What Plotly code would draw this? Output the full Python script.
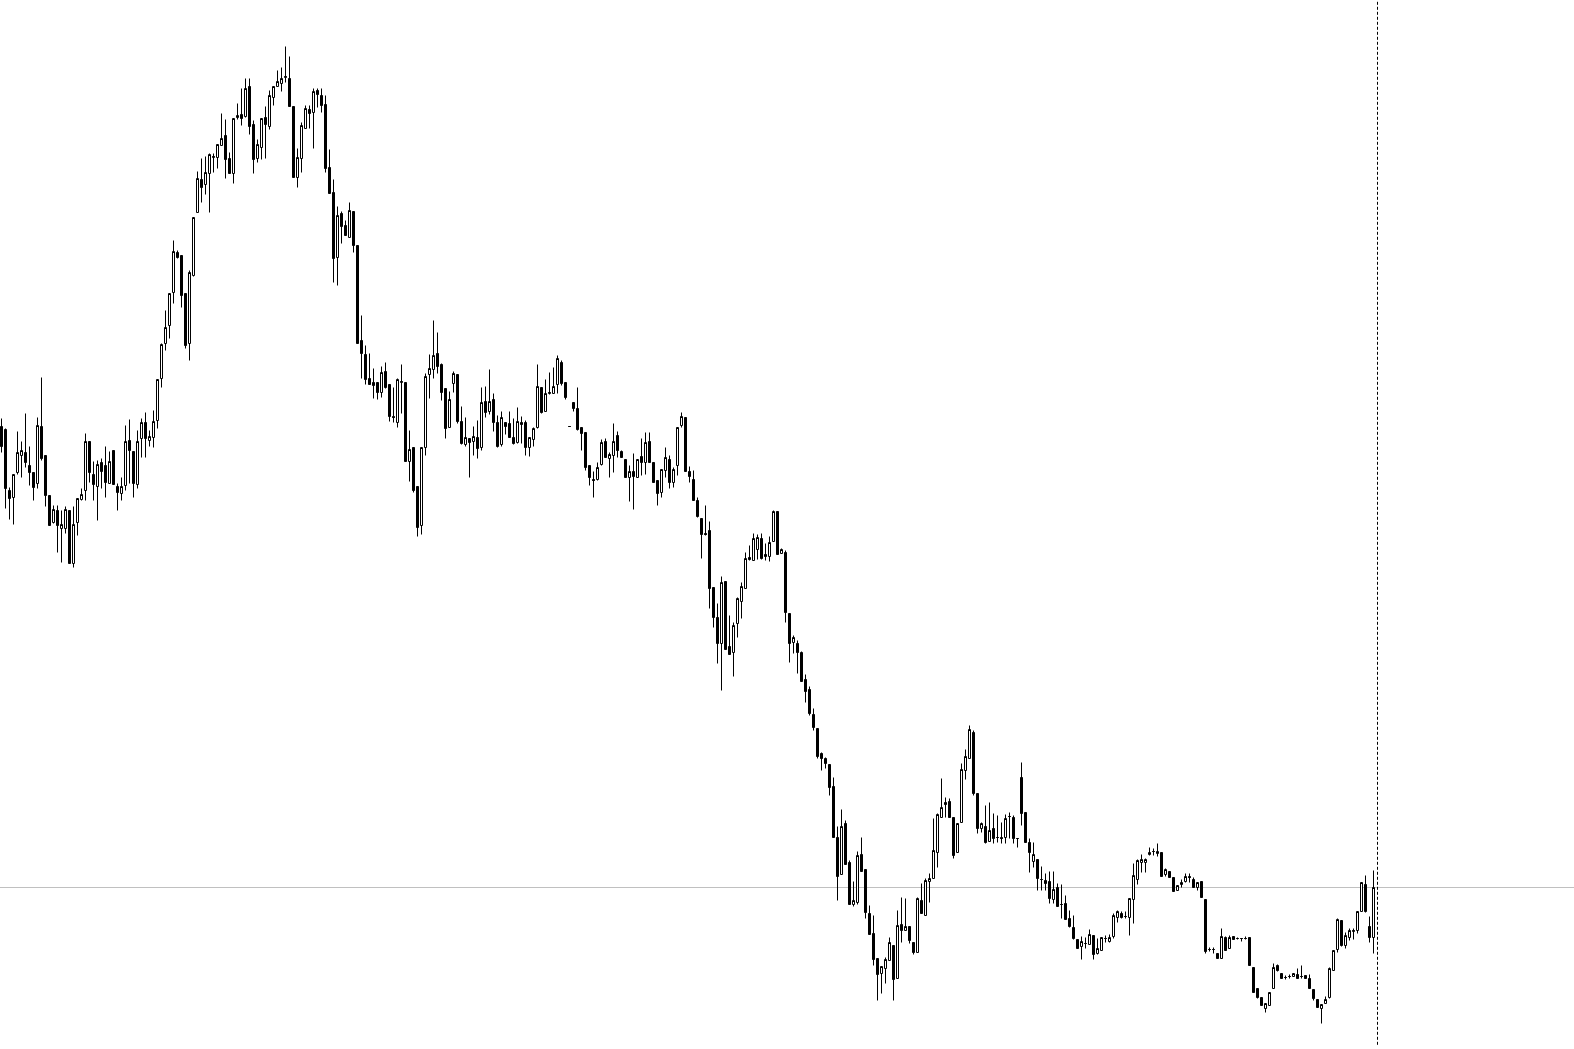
import plotly.graph_objects as go

opens = [624, 621, 560, 553, 578, 595, 598, 585, 578, 567,
         624, 595, 555, 528, 540, 522, 522, 540, 487, 528,
         551, 560, 609, 576, 564, 588, 585, 567, 600, 564,
         557, 565, 610, 599, 566, 612, 628, 610, 613, 630,
         672, 707, 725, 758, 798, 795, 757, 707, 775, 838,
         871, 866, 877, 893, 893, 905, 915, 892, 877, 933,
         936, 934, 964, 926, 892, 903, 933, 924, 953, 964,
         967, 973, 972, 944, 873, 892, 922, 941, 938, 960,
         955, 946, 883, 858, 793, 837, 825, 813, 839, 805,
         710, 696, 672, 668, 668, 658, 679, 666, 634, 628,
         668, 668, 589, 603, 564, 525, 603, 676, 681, 697,
         686, 662, 623, 667, 676, 629, 606, 612, 609, 613,
         603, 649, 639, 651, 628, 606, 628, 627, 613, 608,
         628, 628, 603, 611, 623, 663, 639, 657, 657, 666,
         688, 668, 624, 648, 642, 623, 618, 585, 571, 571,
         586, 609, 592, 595, 615, 599, 591, 573, 579, 573,
         594, 588, 609, 588, 570, 558, 580, 591, 568, 585,
         625, 633, 579, 571, 550, 532, 517, 520, 463, 433,
         407, 469, 404, 398, 427, 449, 462, 493, 490, 501,
         512, 496, 494, 509, 539, 497, 498, 437, 408, 407,
         398, 371, 361, 336, 322, 297, 292, 286, 264, 213,
         176, 227, 188, 146, 148, 196, 181, 137, 117, 92,
         77, 82, 90, 105, 72, 126, 120, 124, 108, 98,
         150, 135, 169, 172, 198, 233, 248, 249, 233, 198,
         228, 280, 292, 318, 257, 222, 224, 209, 222, 213,
         213, 213, 234, 233, 212, 273, 238, 208, 189, 191,
         171, 170, 169, 151, 163, 146, 147, 132, 123, 111,
         104, 107, 106, 115, 97, 100, 112, 109, 114, 133,
         137, 134, 133, 151, 171, 188, 188, 196, 199, 197,
         198, 176, 179, 173, 160, 166, 169, 174, 171, 163,
         169, 151, 101, 101, 97, 92, 113, 102, 114, 112,
         112, 112, 113, 83, 62, 53, 42, 45, 62, 85,
         77, 73, 74, 74, 76, 74, 75, 72, 61, 51,
         42, 47, 53, 80, 101, 130, 105, 113, 119, 120,
         139, 166, 124, 113]

highs = [632, 622, 563, 576, 619, 609, 637, 604, 578, 633,
         673, 595, 555, 545, 545, 540, 544, 540, 544, 552,
         562, 617, 609, 589, 590, 592, 604, 599, 600, 567,
         573, 625, 631, 599, 620, 632, 638, 620, 640, 671,
         707, 740, 757, 810, 800, 795, 757, 780, 833, 879,
         892, 894, 897, 897, 906, 937, 931, 898, 932, 947,
         962, 972, 972, 930, 911, 932, 944, 960, 964, 980,
         983, 1004, 994, 944, 902, 928, 945, 945, 962, 962,
         962, 955, 901, 871, 844, 839, 830, 848, 839, 805,
         735, 705, 697, 682, 668, 684, 688, 666, 663, 672,
         686, 668, 620, 603, 564, 603, 677, 696, 730, 718,
         687, 662, 659, 679, 676, 644, 633, 612, 624, 630,
         663, 664, 681, 657, 635, 639, 628, 639, 632, 643,
         634, 630, 613, 623, 686, 663, 671, 678, 683, 695,
         690, 668, 624, 648, 663, 623, 618, 585, 579, 588,
         611, 612, 598, 627, 619, 600, 591, 585, 597, 591,
         612, 618, 618, 588, 570, 581, 603, 595, 583, 623,
         638, 633, 584, 580, 553, 532, 545, 529, 463, 447,
         474, 469, 435, 428, 453, 468, 498, 505, 517, 516,
         517, 507, 514, 540, 539, 502, 500, 437, 415, 410,
         399, 376, 364, 342, 322, 298, 293, 286, 273, 224,
         241, 230, 190, 169, 199, 213, 181, 145, 135, 92,
         84, 93, 113, 105, 140, 153, 152, 124, 108, 153,
         167, 172, 177, 232, 237, 272, 253, 252, 233, 227,
         287, 301, 325, 320, 257, 228, 245, 248, 237, 235,
         228, 236, 238, 235, 212, 288, 238, 212, 208, 191,
         184, 177, 179, 179, 167, 166, 155, 140, 135, 111,
         114, 113, 121, 115, 112, 113, 115, 116, 137, 140,
         139, 139, 152, 187, 191, 196, 192, 203, 202, 207,
         198, 182, 179, 173, 165, 171, 177, 177, 173, 168,
         169, 151, 103, 103, 97, 122, 114, 115, 114, 113,
         112, 114, 113, 83, 62, 53, 47, 58, 87, 86,
         77, 75, 76, 77, 82, 85, 75, 76, 61, 51,
         46, 54, 83, 100, 132, 130, 118, 122, 122, 139,
         168, 175, 134, 180]

lows = [598, 542, 531, 526, 576, 573, 583, 565, 550, 562,
        590, 544, 525, 527, 498, 488, 517, 487, 483, 515,
        550, 550, 568, 550, 530, 562, 553, 567, 566, 540,
        550, 560, 567, 553, 562, 593, 593, 604, 603, 622,
        663, 700, 712, 747, 792, 743, 702, 690, 774, 838,
        848, 856, 838, 878, 882, 905, 872, 877, 867, 931,
        925, 933, 916, 877, 888, 891, 892, 921, 945, 964,
        959, 968, 944, 873, 863, 878, 922, 922, 902, 943,
        938, 878, 857, 768, 765, 807, 815, 813, 798, 707,
        672, 666, 666, 652, 651, 653, 662, 629, 628, 623,
        637, 589, 569, 558, 514, 516, 595, 652, 672, 677,
        650, 612, 623, 658, 627, 606, 604, 573, 595, 592,
        600, 633, 636, 619, 603, 604, 616, 613, 606, 607,
        607, 595, 594, 604, 622, 637, 639, 656, 657, 657,
        665, 651, 624, 639, 620, 600, 580, 565, 553, 570,
        585, 593, 573, 578, 593, 593, 573, 549, 541, 573,
        575, 576, 588, 568, 545, 553, 573, 562, 563, 575,
        623, 579, 568, 550, 533, 492, 515, 442, 423, 387,
        360, 401, 396, 374, 413, 432, 462, 490, 490, 491,
        491, 490, 489, 509, 496, 497, 428, 388, 397, 377,
        369, 348, 335, 320, 292, 280, 282, 255, 213, 150,
        176, 186, 146, 144, 146, 179, 132, 116, 85, 50,
        57, 67, 90, 50, 72, 108, 120, 107, 96, 98,
        137, 135, 148, 172, 183, 233, 233, 233, 192, 198,
        228, 271, 292, 255, 217, 218, 207, 209, 207, 208,
        207, 207, 212, 207, 203, 225, 208, 178, 183, 160,
        160, 160, 147, 147, 144, 132, 131, 123, 111, 102,
        91, 102, 106, 91, 96, 100, 108, 108, 112, 128,
        132, 132, 115, 127, 166, 178, 178, 195, 195, 194,
        174, 174, 173, 159, 160, 163, 168, 168, 163, 160,
        153, 97, 99, 97, 92, 92, 100, 102, 111, 111,
        109, 111, 85, 58, 52, 45, 38, 45, 62, 79,
        72, 71, 72, 74, 72, 72, 72, 62, 50, 43,
        27, 47, 52, 80, 98, 104, 102, 110, 111, 117,
        139, 138, 108, 97]

closes = [604, 562, 552, 576, 598, 600, 588, 578, 563, 625,
          592, 555, 525, 541, 525, 526, 541, 487, 526, 552,
          556, 609, 578, 566, 586, 579, 568, 589, 566, 558,
          564, 609, 600, 567, 609, 628, 612, 614, 629, 671,
          706, 723, 757, 799, 793, 755, 705, 778, 833, 872,
          863, 878, 896, 894, 906, 912, 891, 877, 932, 935,
          932, 962, 924, 891, 906, 932, 926, 955, 964, 969,
          972, 974, 944, 873, 893, 925, 942, 937, 959, 956,
          945, 882, 857, 792, 835, 824, 815, 840, 805, 707,
          697, 671, 666, 665, 658, 678, 663, 634, 633, 671,
          669, 589, 601, 560, 523, 603, 674, 682, 695, 684,
          658, 622, 651, 677, 629, 607, 613, 608, 614, 602,
          648, 638, 649, 628, 604, 633, 624, 613, 607, 629,
          626, 603, 613, 622, 664, 638, 657, 658, 664, 692,
          667, 653, 624, 642, 621, 617, 583, 573, 570, 583,
          608, 593, 596, 609, 600, 593, 573, 579, 574, 591,
          588, 608, 588, 568, 557, 581, 593, 568, 581, 623,
          634, 579, 574, 550, 534, 516, 516, 462, 433, 407,
          468, 401, 396, 425, 452, 464, 492, 491, 512, 513,
          492, 494, 508, 539, 496, 501, 438, 407, 413, 398,
          369, 359, 337, 323, 294, 292, 287, 263, 213, 174,
          224, 186, 146, 150, 195, 179, 138, 116, 91, 76,
          84, 91, 108, 71, 125, 120, 124, 110, 98, 152,
          137, 170, 172, 200, 236, 243, 246, 233, 195, 227,
          281, 294, 321, 257, 222, 227, 208, 220, 212, 213,
          212, 232, 234, 212, 212, 237, 208, 198, 196, 172,
          171, 167, 152, 161, 144, 146, 131, 124, 112, 102,
          109, 107, 116, 96, 102, 113, 112, 113, 135, 139,
          133, 134, 152, 175, 190, 191, 191, 198, 199, 199,
          174, 181, 173, 159, 165, 168, 174, 173, 163, 168,
          153, 99, 101, 101, 92, 114, 100, 113, 111, 112,
          112, 112, 85, 58, 53, 45, 47, 58, 83, 80,
          72, 73, 74, 77, 72, 74, 72, 62, 52, 43,
          46, 51, 82, 100, 131, 105, 115, 120, 120, 139,
          168, 139, 113, 163]

n = len(closes)
bars = list(range(n))
hi = [max(h, o, c) for h, o, c in zip(highs, opens, closes)]
lo = [min(l, o, c) for l, o, c in zip(lows, opens, closes)]

bid_level = closes[-1]
shift_bar = n  # chart shift separator, one bar after the last

fig = go.Figure()
fig.add_trace(go.Candlestick(
    x=bars, open=opens, high=hi, low=lo, close=closes,
    increasing=dict(line=dict(color="#000000", width=1), fillcolor="#ffffff"),
    decreasing=dict(line=dict(color="#000000", width=1), fillcolor="#000000"),
    whiskerwidth=0,
    showlegend=False,
    hoverinfo="skip",
))

fig.add_shape(type="line", xref="paper", x0=0, x1=1, yref="y",
              y0=bid_level, y1=bid_level,
              line=dict(color="#c0c0c0", width=1), layer="below")
fig.add_shape(type="line", xref="x", x0=shift_bar, x1=shift_bar,
              yref="paper", y0=0.004, y1=1,
              line=dict(color="#000000", width=1, dash="3px,2px"))

fig.update_layout(
    width=1574, height=1049,
    margin=dict(l=0, r=0, t=0, b=0),
    paper_bgcolor="#ffffff", plot_bgcolor="#ffffff",
    boxgap=0.5, boxgroupgap=0,
    showlegend=False,
    xaxis=dict(range=[-0.375, 393.125], visible=False, showgrid=False,
               zeroline=False, rangeslider=dict(visible=False), fixedrange=True),
    yaxis=dict(range=[1.5, 1050.5], visible=False, showgrid=False,
               zeroline=False, fixedrange=True),
)

fig.write_html("out.html", config={"displayModeBar": False},
               post_script="document.body.style.margin='0';")
